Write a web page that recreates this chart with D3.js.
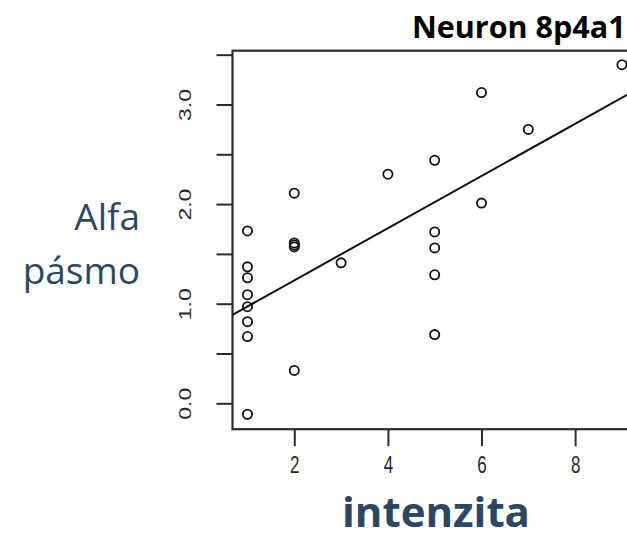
<!DOCTYPE html>
<html>
<head>
<meta charset="utf-8">
<script src="https://cdn.jsdelivr.net/npm/d3@7"></script>
<style>
  html, body { margin: 0; padding: 0; background: #fff; }
  svg { display: block; }
</style>
</head>
<body>
<svg id="chart" width="627" height="538"></svg>
<script>
// Intensity (x) and alpha-band power (y) for each recorded trial
const intensity = [1, 1, 1, 1, 1, 1, 1, 1,
                   2, 2, 2, 2, 2,
                   3, 4,
                   5, 5, 5, 5, 5,
                   6, 6, 7, 9];
const alphaPower = [1.73, 1.37, 1.26, 1.09, 0.97, 0.82, 0.67, -0.11,
                    2.11, 1.61, 1.59, 1.57, 0.33,
                    1.41, 2.30,
                    2.44, 1.72, 1.56, 1.29, 0.69,
                    3.12, 2.01, 2.75, 3.40];

// Least-squares fit line: alpha = intercept + slope * intensity
const fitIntercept = 0.71;
const fitSlope = 0.262;

const xTicks = [2, 4, 6, 8];
const yTicks = [0, 0.5, 1, 1.5, 2, 2.5, 3, 3.5];
const yLabelled = [0, 1, 2, 3];

const titleText = "Neuron 8p4a1";
const xTitle = "intenzita";
const yTitleLines = ["Alfa", "pásmo"];

const svg = d3.select("#chart");

const x = d3.scaleLinear().domain([0.68, 9.32]).range([232.5, 636.9]);
const y = d3.scaleLinear().domain([-0.26, 3.54]).range([429.2, 50.7]);

const axisColor = "#2b2b2b";
const labelColor = "#2a2a2a";
const titleBlue = "#2c4766";
const tickFont = "'Liberation Sans', Arial, sans-serif";
const slideFont = "'Open Sans', Lato, sans-serif";

// Plot frame
svg.append("rect")
  .attr("x", x.range()[0]).attr("y", y.range()[1])
  .attr("width", x.range()[1] - x.range()[0])
  .attr("height", y.range()[0] - y.range()[1])
  .attr("fill", "none")
  .attr("stroke", axisColor)
  .attr("stroke-width", 2.2);

// Left axis with rotated labels on whole numbers only
const yAxis = svg.append("g")
  .attr("transform", `translate(${x.range()[0]},0)`)
  .call(d3.axisLeft(y).tickValues(yTicks).tickSize(16).tickSizeOuter(0)
    .tickFormat(d => yLabelled.includes(d) ? d3.format(".1f")(d) : ""));
yAxis.select(".domain").remove();
yAxis.selectAll(".tick line").attr("stroke", axisColor).attr("stroke-width", 2);
yAxis.selectAll(".tick text")
  .attr("x", null).attr("dy", null)
  .attr("text-anchor", "middle")
  .attr("dominant-baseline", "central")
  .attr("transform", "translate(-47,0) rotate(-90) scale(1.15,0.85)")
  .attr("fill", labelColor)
  .style("font-family", tickFont)
  .style("font-size", "20px");

// Bottom axis
const xAxis = svg.append("g")
  .attr("transform", `translate(0,${y.range()[0]})`)
  .call(d3.axisBottom(x).tickValues(xTicks).tickSize(17).tickSizeOuter(0));
xAxis.select(".domain").remove();
xAxis.selectAll(".tick line").attr("stroke", axisColor).attr("stroke-width", 2);
xAxis.selectAll(".tick text")
  .attr("y", null).attr("dy", null)
  .attr("dominant-baseline", "central")
  .attr("transform", "translate(0,36) scale(0.85,1.15)")
  .attr("fill", labelColor)
  .style("font-family", tickFont)
  .style("font-size", "20px");

// Clip region for the fitted line
svg.append("clipPath").attr("id", "plot-clip")
  .append("rect")
  .attr("x", x.range()[0]).attr("y", y.range()[1])
  .attr("width", x.range()[1] - x.range()[0])
  .attr("height", y.range()[0] - y.range()[1]);

const [x0, x1] = x.domain();
svg.append("line")
  .attr("clip-path", "url(#plot-clip)")
  .attr("x1", x(x0)).attr("y1", y(fitIntercept + fitSlope * x0))
  .attr("x2", x(x1)).attr("y2", y(fitIntercept + fitSlope * x1))
  .attr("stroke", "#111")
  .attr("stroke-width", 2);

// Observations as open circles
svg.append("g")
  .selectAll("circle")
  .data(intensity.map((v, i) => [v, alphaPower[i]]))
  .join("circle")
  .attr("cx", d => x(d[0]))
  .attr("cy", d => y(d[1]))
  .attr("r", 4.6)
  .attr("fill", "none")
  .attr("stroke", "#111")
  .attr("stroke-width", 1.8);

// Title
svg.append("text")
  .attr("x", 412).attr("y", 38)
  .attr("fill", "#000")
  .style("font-family", slideFont)
  .style("font-weight", "700")
  .style("font-size", "30.5px")
  .text(titleText);

// Axis titles
svg.append("text")
  .attr("x", 436).attr("y", 527)
  .attr("text-anchor", "middle")
  .attr("fill", titleBlue)
  .style("font-family", slideFont)
  .style("font-weight", "700")
  .style("font-size", "42px")
  .text(xTitle);

svg.append("g")
  .selectAll("text")
  .data(yTitleLines)
  .join("text")
  .attr("x", 140)
  .attr("y", (d, i) => 230 + i * 54)
  .attr("text-anchor", "end")
  .attr("fill", titleBlue)
  .style("font-family", slideFont)
  .style("font-size", "37px")
  .text(d => d);
</script>
</body>
</html>
